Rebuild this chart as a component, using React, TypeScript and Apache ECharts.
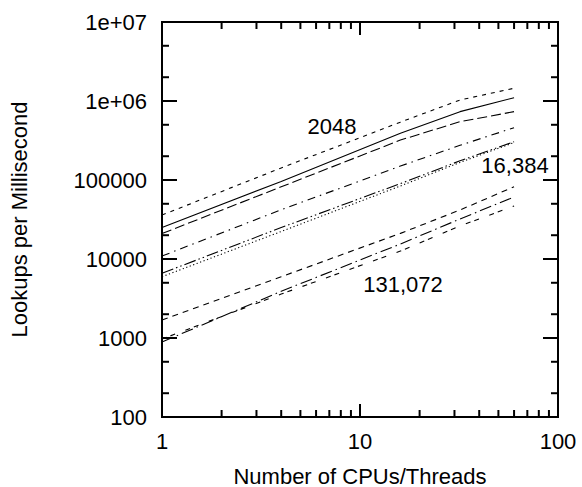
import React, { useEffect, useRef } from "react";
import * as echarts from "echarts";

// ---- data ----
const cpus = [1, 4, 16, 32, 60];

// 2048 group
const g2048ShortDash = [36000, 142000, 540000, 1030000, 1450000];
const g2048Solid = [25000, 96000, 390000, 733000, 1100000];
const g2048LongDash = [21000, 82000, 320000, 547000, 733000];
// 16,384 group
const g16kDashDot = [10900, 42000, 150000, 275000, 459000];
const g16kDashDotDot = [6600, 25000, 90000, 175000, 305000];
const g16kDotted = [5970, 22300, 84000, 167000, 298000];
// 131,072 group
const g131kShortDash = [1690, 5970, 21100, 41700, 82200];
const g131kDashDot = [890, 3900, 15500, 32100, 60900];
const g131kDashPair = [970, 3600, 12600, 26200, 46900];

const xMajorTicks = [1, 10, 100];
const xMinorTicks = [2, 3, 4, 5, 6, 7, 8, 9, 20, 30, 40, 50, 60, 70, 80, 90];
const yMajorTicks = [100, 1000, 10000, 100000, 1000000, 10000000];
const yMinorTicks = [200, 500, 2000, 5000, 20000, 50000, 200000, 500000, 2000000, 5000000];

const curveLabels = ["2048", "16,384", "131,072"];
const xTitle = "Number of CPUs/Threads";
const yTitle = "Lookups per Millisecond";

const FONT = "Liberation Sans, Arial, Helvetica, sans-serif";

const X_MIN = 1, X_MAX = 100, Y_MIN = 100, Y_MAX = 10000000;

function lineSeries(values: number[], dash: any) {
  return {
    type: "line",
    data: cpus.map((c, i) => [c, values[i]]),
    symbol: "none",
    showSymbol: false,
    lineStyle: { color: "#000", width: 1.1, type: dash },
  };
}

function makeOption(): any {
  return {
    animation: false,
    grid: {
      left: 162,
      right: 24,
      top: 22,
      bottom: 70,
      show: true,
      borderColor: "#000",
      borderWidth: 2,
      outerBoundsMode: "none",
      containLabel: false,
    },
    xAxis: {
      type: "log",
      logBase: 10,
      min: X_MIN,
      max: X_MAX,
      name: xTitle,
      nameLocation: "middle",
      nameGap: 48,
      nameTextStyle: { fontSize: 22, color: "#000", fontFamily: FONT },
      axisLine: { show: true, lineStyle: { color: "#000", width: 2 } },
      axisTick: { show: false },
      splitLine: { show: false },
      axisLabel: {
        fontSize: 22,
        color: "#000",
        fontFamily: FONT,
        margin: 13,
        formatter: (x: number) => String(Math.round(x)),
      },
    },
    yAxis: {
      type: "log",
      logBase: 10,
      min: Y_MIN,
      max: Y_MAX,
      name: yTitle,
      nameLocation: "middle",
      nameGap: 132,
      nameTextStyle: { fontSize: 22, color: "#000", fontFamily: FONT },
      axisLine: { show: true, lineStyle: { color: "#000", width: 2 } },
      axisTick: { show: false },
      splitLine: { show: false },
      axisLabel: {
        fontSize: 22,
        color: "#000",
        fontFamily: FONT,
        margin: 15,
        formatter: (x: number) => {
          const r = Math.round(x);
          if (r >= 1000000) {
            const e = Math.round(Math.log10(r));
            return "1e+" + (e < 10 ? "0" + e : String(e));
          }
          return String(r);
        },
      },
    },
    series: [
      lineSeries(g2048ShortDash, [4, 5]),
      lineSeries(g2048Solid, "solid"),
      lineSeries(g2048LongDash, [10, 4]),
      lineSeries(g16kDashDot, [8, 5, 1.5, 5]),
      lineSeries(g16kDashDotDot, [12, 3, 1.5, 3, 1.5, 3]),
      lineSeries(g16kDotted, [1.2, 2.5]),
      lineSeries(g131kShortDash, [6, 5]),
      lineSeries(g131kDashDot, [12, 4, 1.5, 4]),
      lineSeries(g131kDashPair, [5, 4, 5, 11]),
    ],
  };
}

function buildGraphic(chart: any): any[] {
  const px = (x: number, y: number) => chart.convertToPixel({ gridIndex: 0 }, [x, y]) as number[];
  const labelStyle = { fontSize: 22, fontFamily: FONT, fill: "#000", align: "center", verticalAlign: "middle" };
  const els: any[] = [];
  const tl = px(X_MIN, Y_MAX);
  const br = px(X_MAX, Y_MIN);
  els.push({
    type: "rect",
    shape: { x: tl[0], y: tl[1], width: br[0] - tl[0], height: br[1] - tl[1] },
    style: { fill: "none", stroke: "#000", lineWidth: 2 },
    silent: true,
    z: 10,
  });
  const tick = (x1: number, y1: number, x2: number, y2: number) =>
    els.push({ type: "line", shape: { x1, y1, x2, y2 }, style: { stroke: "#000", lineWidth: 2 }, silent: true, z: 10 });
  const xt = [...xMajorTicks.map((v) => [v, 13]), ...xMinorTicks.map((v) => [v, 7])];
  const yt = [...yMajorTicks.map((v) => [v, 15]), ...yMinorTicks.map((v) => [v, 7])];
  xt.forEach(([v, len]) => {
    const b = px(v, Y_MIN);
    const t = px(v, Y_MAX);
    tick(b[0], b[1], b[0], b[1] - len);
    tick(t[0], t[1], t[0], t[1] + len);
  });
  yt.forEach(([v, len]) => {
    const l = px(X_MIN, v);
    const r = px(X_MAX, v);
    tick(l[0], l[1], l[0] + len, l[1]);
    tick(r[0], r[1], r[0] - len, r[1]);
  });
  els.push({ type: "text", x: 332, y: 126, style: { text: curveLabels[0], ...labelStyle } });
  els.push({ type: "text", x: 515, y: 165, style: { text: curveLabels[1], ...labelStyle } });
  els.push({ type: "text", x: 403, y: 284, style: { text: curveLabels[2], ...labelStyle } });
  return els;
}

function Chart() {
  const ref = useRef<HTMLDivElement>(null);
  useEffect(() => {
    if (!ref.current) return;
    const chart = echarts.init(ref.current, null, { renderer: "svg" });
    chart.setOption(makeOption());
    chart.setOption({ graphic: buildGraphic(chart) });
    return () => chart.dispose();
  }, []);
  return <div ref={ref} style={{ width: 582, height: 487, background: "#fff" }} />;
}

export default function App() {
  return (
    <div style={{ position: "fixed", left: 0, top: 0, width: 582, height: 487, display: "flex", background: "#fff" }}>
      <Chart />
    </div>
  );
}
